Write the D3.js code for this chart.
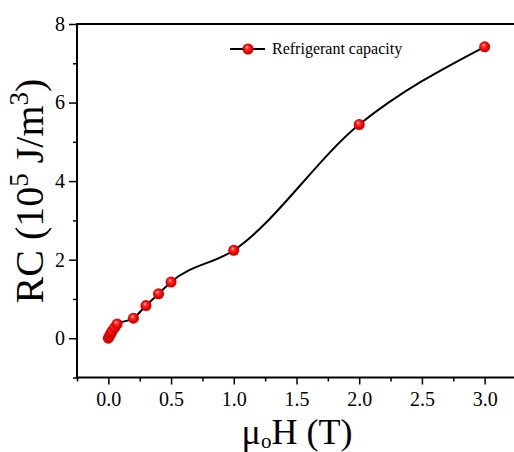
<!DOCTYPE html>
<html>
<head>
<meta charset="utf-8">
<script src="https://cdn.jsdelivr.net/npm/d3@7/dist/d3.min.js"></script>
<style>
  html, body { margin: 0; padding: 0; background: #fff; }
  svg, svg text { font-family: "Liberation Serif", "Times New Roman", serif !important; }
</style>
</head>
<body>
<svg id="chart" width="514" height="452"></svg>
<script>
// Applied field μ0H (T) and refrigerant capacity RC (10^5 J/m^3)
const fieldT = [0, 0.01, 0.02, 0.03, 0.05, 0.07, 0.2, 0.3, 0.4, 0.5, 1.0, 2.0, 3.0];
const rcValues = [0, 0.06, 0.12, 0.18, 0.27, 0.36, 0.51, 0.83, 1.13, 1.43, 2.24, 5.44, 7.42];
const xTicks = [0, 0.5, 1.0, 1.5, 2.0, 2.5, 3.0];
const xMinorTicks = [-0.25, 0.25, 0.75, 1.25, 1.75, 2.25, 2.75, 3.25];
const yTicks = [0, 2, 4, 6, 8];
const yMinorTicks = [-1, 1, 3, 5, 7];
const legendLabel = "Refrigerant capacity";

const svg = d3.select("#chart");
const x = d3.scaleLinear().domain([-0.25, 3.25]).range([77, 516]);
const y = d3.scaleLinear().domain([-1, 8]).range([377.5, 24]);

// sphere-like marker fill
const defs = svg.append("defs");
const grad = defs.append("radialGradient").attr("id", "ball")
  .attr("cx", "50%").attr("cy", "50%").attr("r", "55%")
  .attr("fx", "38%").attr("fy", "32%");
grad.append("stop").attr("offset", "0%").attr("stop-color", "#ffe6e6");
grad.append("stop").attr("offset", "25%").attr("stop-color", "#ff3a3a");
grad.append("stop").attr("offset", "65%").attr("stop-color", "#f00000");
grad.append("stop").attr("offset", "100%").attr("stop-color", "#b00000");

// frame (right edge sits just past the drawing area)
svg.append("path")
  .attr("d", `M${x(-0.25)},${y(-1)}V${y(8)}H${x(3.25)}V${y(-1)}Z`)
  .attr("fill", "none").attr("stroke", "#000").attr("stroke-width", 2);

// x axis
const xAxis = svg.append("g").attr("transform", `translate(0,${y(-1)})`)
  .call(d3.axisBottom(x).tickValues(xTicks).tickFormat(d3.format(".1f")).tickSize(7).tickPadding(7));
const xMinor = svg.append("g").attr("transform", `translate(0,${y(-1)})`)
  .call(d3.axisBottom(x).tickValues(xMinorTicks).tickFormat("").tickSize(4));

// y axis
const yAxis = svg.append("g").attr("transform", `translate(${x(-0.25)},0)`)
  .call(d3.axisLeft(y).tickValues(yTicks).tickFormat(d3.format("d")).tickSize(8).tickPadding(4));
const yMinor = svg.append("g").attr("transform", `translate(${x(-0.25)},0)`)
  .call(d3.axisLeft(y).tickValues(yMinorTicks).tickFormat("").tickSize(4));

[xAxis, xMinor, yAxis, yMinor].forEach(g => {
  g.attr("font-family", null).attr("font-size", null);
  g.select(".domain").remove();
  g.selectAll("line").attr("stroke", "#000").attr("stroke-width", 1.5);
  g.selectAll("text").style("font-size", "20px").attr("fill", "#000");
});

// smooth curve through the measured points
const pts = fieldT.map((f, i) => [f, rcValues[i]]);
const line = d3.line().x(d => x(d[0])).y(d => y(d[1])).curve(d3.curveMonotoneX);
svg.append("path").datum(pts).attr("d", line)
  .attr("fill", "none").attr("stroke", "#000").attr("stroke-width", 2);

svg.append("g").selectAll("circle").data(pts).join("circle")
  .attr("cx", d => x(d[0])).attr("cy", d => y(d[1])).attr("r", 5.5)
  .attr("fill", "url(#ball)");

// legend
const lg = svg.append("g").attr("transform", "translate(230,49)");
lg.append("line").attr("x1", 0).attr("x2", 35).attr("y1", 0).attr("y2", 0)
  .attr("stroke", "#000").attr("stroke-width", 2);
lg.append("circle").attr("cx", 18).attr("cy", 0).attr("r", 5.5).attr("fill", "url(#ball)");
lg.append("text").attr("x", 42).attr("y", 5).style("font-size", "16px").text(legendLabel);

// axis titles
const xt = svg.append("text").attr("x", 297).attr("y", 444)
  .attr("text-anchor", "middle").style("font-size", "36px");
xt.append("tspan").text("μ");
xt.append("tspan").style("font-size", "21px").attr("dy", 4).text("o");
xt.append("tspan").attr("dy", -4).text("H (T)");

const yt = svg.append("text").attr("transform", "translate(43,191) rotate(-90)")
  .attr("text-anchor", "middle").style("font-size", "40px");
yt.append("tspan").text("RC (10");
yt.append("tspan").style("font-size", "27px").attr("dy", -15).text("5");
yt.append("tspan").attr("dy", 15).text(" J/m");
yt.append("tspan").style("font-size", "27px").attr("dy", -15).text("3");
yt.append("tspan").attr("dy", 15).text(")");
</script>
</body>
</html>
